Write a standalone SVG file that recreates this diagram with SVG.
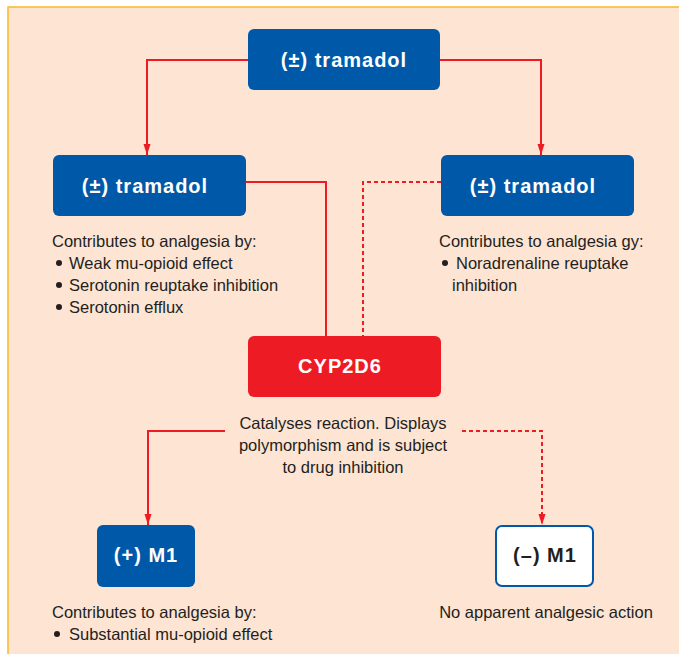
<svg xmlns="http://www.w3.org/2000/svg" width="679" height="654" viewBox="0 0 679 654">
<style>
.bg{fill:#FDE4D3;stroke:#FDB827;stroke-width:1.5}
.blue{fill:#0059A8}
.red{fill:#ED1C24}
.wbox{fill:#FFFFFF;stroke:#0059A8;stroke-width:2}
.lbl{font-family:"Liberation Sans",Arial,sans-serif;font-weight:bold;font-size:20px;fill:#FFFFFF;text-anchor:middle;letter-spacing:1px}
.lblk{fill:#231F20}
.body{font-family:"Liberation Sans",Arial,sans-serif;font-size:16.5px;fill:#231F20}
.mid{text-anchor:middle}
.c{fill:none;stroke:#ED1C24;stroke-width:2}
.d{stroke-dasharray:4 3}
.dot{fill:#231F20}
</style>
<defs>
<marker id="ah" markerUnits="userSpaceOnUse" markerWidth="11" markerHeight="8" refX="11" refY="4" orient="auto" viewBox="0 0 11 8">
<path d="M0,0.5 L11,4 L0,7.5 Z" fill="#ED1C24"/>
</marker>
</defs>
<rect class="bg" x="8" y="7" width="690" height="660"/>
<g id="connectors">
<path class="c" d="M248,60 H147 V155" marker-end="url(#ah)"/>
<path class="c" d="M440,60 H541 V155" marker-end="url(#ah)"/>
<path class="c" d="M246,182 H326 V336"/>
<path class="c d" d="M441,182 H363 V336"/>
<path class="c" d="M225,431 H148 V525" marker-end="url(#ah)"/>
<path class="c d" d="M462,431 H542 V525" marker-end="url(#ah)"/>
</g>
<g id="tramadol-top">
<rect class="blue" x="248" y="29" width="192" height="61" rx="6"/>
<text class="lbl" x="344" y="67">(±) tramadol</text>
</g>
<g id="tramadol-left">
<rect class="blue" x="53" y="155" width="193" height="61" rx="6"/>
<text class="lbl" x="145" y="193">(±) tramadol</text>
</g>
<g id="tramadol-right">
<rect class="blue" x="441" y="155" width="193" height="61" rx="6"/>
<text class="lbl" x="533" y="193">(±) tramadol</text>
</g>
<g id="left-text">
<text class="body" x="52" y="247">Contributes to analgesia by:</text>
<circle class="dot" cx="59" cy="263" r="3"/>
<text class="body" x="69" y="269">Weak mu-opioid effect</text>
<circle class="dot" cx="59" cy="285" r="3"/>
<text class="body" x="69" y="291">Serotonin reuptake inhibition</text>
<circle class="dot" cx="59" cy="307" r="3"/>
<text class="body" x="69" y="313">Serotonin efflux</text>
</g>
<g id="right-text">
<text class="body" x="439" y="247">Contributes to analgesia gy:</text>
<circle class="dot" cx="445" cy="263" r="3"/>
<text class="body" x="456" y="269">Noradrenaline reuptake</text>
<text class="body" x="452" y="291">inhibition</text>
</g>
<g id="cyp2d6">
<rect class="red" x="248" y="336" width="193" height="61" rx="6"/>
<text class="lbl" x="340" y="373">CYP2D6</text>
</g>
<g id="cyp-text">
<text class="body mid" x="343" y="429">Catalyses reaction. Displays</text>
<text class="body mid" x="343" y="451">polymorphism and is subject</text>
<text class="body mid" x="343" y="473">to drug inhibition</text>
</g>
<g id="m1-plus">
<rect class="blue" x="97" y="525" width="98" height="62" rx="6"/>
<text class="lbl" x="146" y="562">(+) M1</text>
</g>
<g id="m1-minus">
<rect class="wbox" x="496" y="526" width="97" height="60" rx="6"/>
<text class="lbl lblk" x="545" y="562">(–) M1</text>
</g>
<g id="m1-plus-text">
<text class="body" x="52" y="618">Contributes to analgesia by:</text>
<circle class="dot" cx="57" cy="634" r="3"/>
<text class="body" x="69" y="640">Substantial mu-opioid effect</text>
</g>
<g id="m1-minus-text">
<text class="body mid" x="546" y="618">No apparent analgesic action</text>
</g>
</svg>
